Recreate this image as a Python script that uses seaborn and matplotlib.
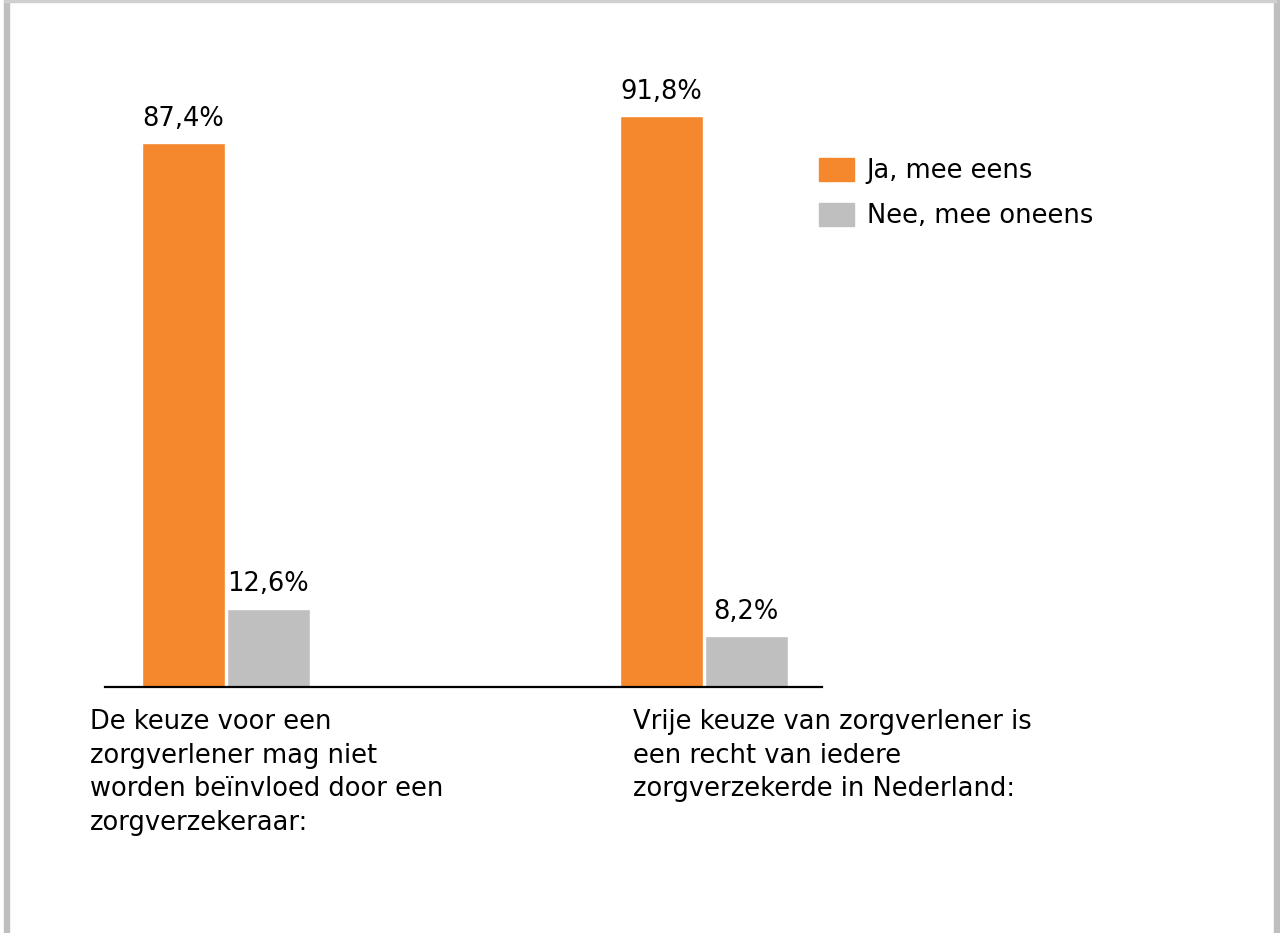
import pandas as pd
import matplotlib.pyplot as plt
import seaborn as sns
from matplotlib.patches import Rectangle

sns.set_theme(style="white")
plt.rcParams['font.family'] = ['DejaVu Sans']
plt.rcParams['text.color'] = 'black'

categories = [
    "De keuze voor een\nzorgverlener mag niet\nworden beïnvloed door een\nzorgverzekeraar:",
    "Vrije keuze van zorgverlener is\neen recht van iedere\nzorgverzekerde in Nederland:",
]
answers = ["Ja, mee eens", "Nee, mee oneens"]
ja_values = [87.4, 91.8]
nee_values = [12.6, 8.2]
colors = ["#F5872D", "#BFBFBF"]

df = pd.DataFrame({
    "vraag": categories * 2,
    "antwoord": [answers[0]] * 2 + [answers[1]] * 2,
    "pct": ja_values + nee_values,
})

fs = 18.5

fig = plt.figure(figsize=(12.8, 9.33), dpi=100)
ax = fig.add_axes([0.082, 0.2637, 0.560, 0.6667])

sns.barplot(data=df, x="vraag", y="pct", hue="antwoord", palette=colors,
            width=0.356, gap=0.02, saturation=1, ax=ax, legend=False)

ax.set_xlim(-0.253, 1.247)
ax.set_ylim(0, 100)
ax.set_xlabel("")
ax.set_ylabel("")
ax.set_xticks([])
ax.set_yticks([])
for s in ["top", "left", "right"]:
    ax.spines[s].set_visible(False)
ax.spines["bottom"].set_color("black")
ax.spines["bottom"].set_linewidth(1.6)

# value labels
for cont in ax.containers:
    labels = [f"{v:.1f}".replace(".", ",") + "%" for v in cont.datavalues]
    ax.bar_label(cont, labels=labels, padding=8, fontsize=fs, color="black")

# category labels under the axis
fig.text(90 / 1280, 1 - 709 / 933, categories[0], ha="left", va="top",
         fontsize=fs, linespacing=1.38)
fig.text(633 / 1280, 1 - 709 / 933, categories[1], ha="left", va="top",
         fontsize=fs, linespacing=1.38)

# legend
handles = [Rectangle((0, 0), 1, 1, color=c) for c in colors]
fig.legend(handles, answers, loc="upper left",
           bbox_to_anchor=(819 / 1280, 1 - 158 / 933), frameon=False,
           fontsize=fs, handlelength=1.35, handleheight=1.0,
           handletextpad=0.5, labelspacing=0.72, borderpad=0, borderaxespad=0)

# grey frame
fig.patches.append(Rectangle((4 / 1280, 0), 5 / 1280, 1, transform=fig.transFigure,
                             color="#BFBFBF", zorder=0))
fig.patches.append(Rectangle((1274 / 1280, 0), 6 / 1280, 1, transform=fig.transFigure,
                             color="#BFBFBF", zorder=0))
fig.patches.append(Rectangle((4 / 1280, 1 - 2 / 933), 1272 / 1280, 2 / 933,
                             transform=fig.transFigure, color="#CFCFCF", zorder=0))

fig.savefig("out.png", dpi=100)
